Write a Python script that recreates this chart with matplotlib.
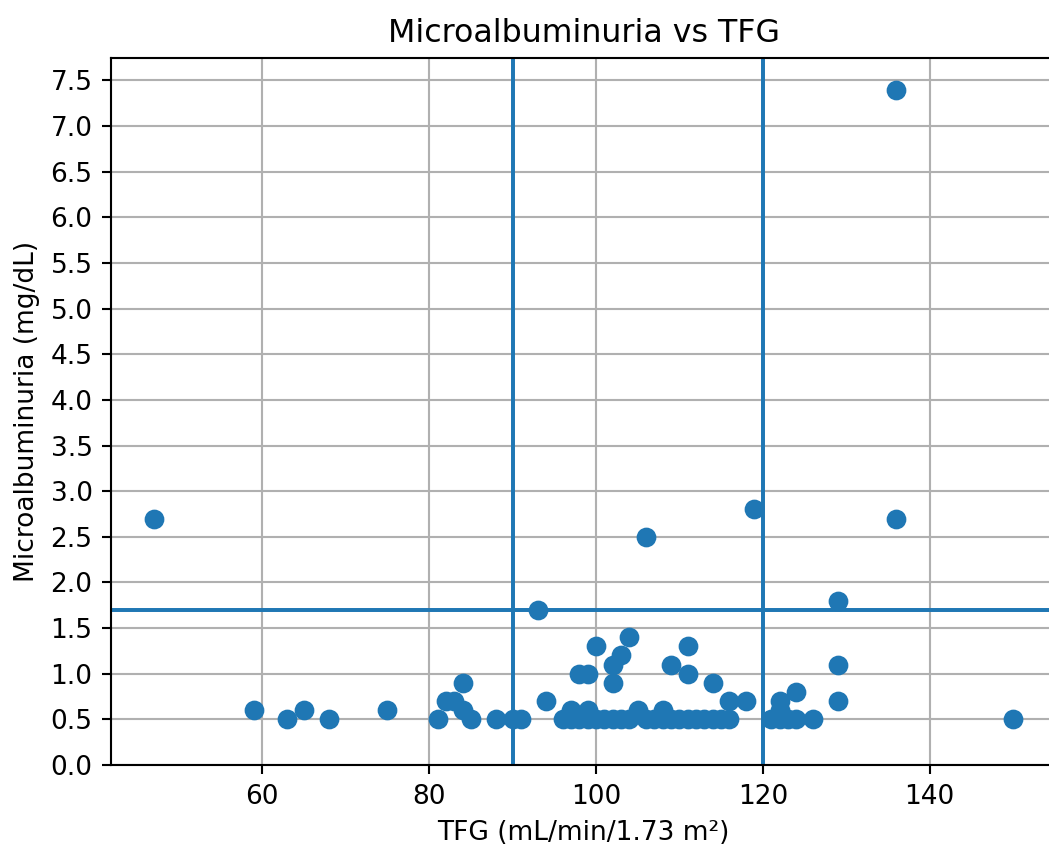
import matplotlib
matplotlib.use("Agg")
import matplotlib.pyplot as plt

tfg = [47, 59, 63, 65, 68, 75, 81, 82, 83, 84, 84, 85, 88, 90, 91, 93, 94,
       96, 97, 97, 98, 98, 99, 99, 99, 100, 100, 101, 102, 102, 102, 103, 103,
       104, 104, 105, 106, 106, 107, 108, 108, 109, 109, 110, 111, 111, 111,
       112, 113, 114, 114, 115, 116, 116, 118, 119, 121, 122, 122, 122, 123,
       124, 124, 126, 129, 129, 129, 136, 136, 150]
micro = [2.7, 0.6, 0.5, 0.6, 0.5, 0.6, 0.5, 0.7, 0.7, 0.9, 0.6, 0.5, 0.5, 0.5, 0.5, 1.7, 0.7,
         0.5, 0.6, 0.5, 1.0, 0.5, 1.0, 0.6, 0.5, 1.3, 0.5, 0.5, 1.1, 0.9, 0.5, 1.2, 0.5,
         1.4, 0.5, 0.6, 2.5, 0.5, 0.5, 0.6, 0.5, 1.1, 0.5, 0.5, 1.3, 1.0, 0.5,
         0.5, 0.5, 0.9, 0.5, 0.5, 0.7, 0.5, 0.7, 2.8, 0.5, 0.6, 0.7, 0.5, 0.5,
         0.8, 0.5, 0.5, 1.8, 1.1, 0.7, 7.4, 2.7, 0.5]

vlines = [90, 120]
hline = 1.7
yticks = [i * 0.5 for i in range(16)]

dpi = 190
fig = plt.figure(figsize=(1049 / dpi, 846 / dpi), dpi=dpi)
ax = fig.add_axes([0.1058, 0.0957, 0.9009, 0.8357])
ax.scatter(tfg, micro, color="#1f77b4", s=42, zorder=3)
for v in vlines:
    ax.axvline(v, color="#1f77b4")
ax.axhline(hline, color="#1f77b4")
ax.set_ylim(bottom=0)
ax.set_yticks(yticks)
ax.grid(True)
ax.set_axisbelow(True)
ax.set_title("Microalbuminuria vs TFG")
ax.set_xlabel("TFG (mL/min/1.73 m²)")
ax.set_ylabel("Microalbuminuria (mg/dL)")
fig.savefig("out.png", dpi=dpi)
